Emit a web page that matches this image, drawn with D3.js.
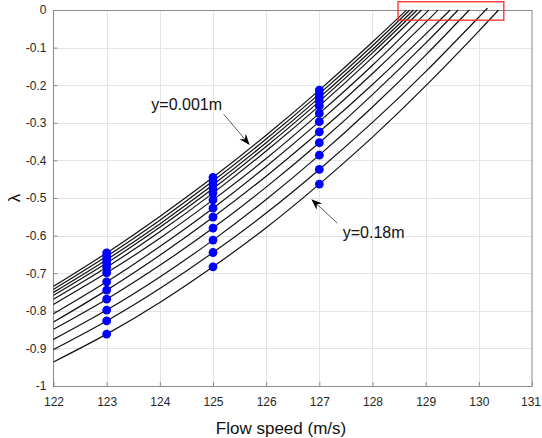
<!DOCTYPE html>
<html>
<head>
<meta charset="utf-8">
<script src="https://cdn.jsdelivr.net/npm/d3@7"></script>
<style>
  html, body { margin: 0; padding: 0; background: #fff; }
  svg { display: block; font-family: "Liberation Sans", Arial, Helvetica, sans-serif; }
</style>
</head>
<body>
<svg id="chart" width="542" height="438"></svg>
<script>
// Flow speed grid (m/s) at which each λ curve is sampled
const speeds = [122, 123, 124, 125, 126, 127, 128, 129, 130];

// λ along each curve, from y = 0.001 m (top) to y = 0.18 m (bottom)
const curve01 = [-0.735, -0.646, -0.549, -0.445, -0.333, -0.213, -0.085];
const curve02 = [-0.743, -0.655, -0.559, -0.455, -0.343, -0.223, -0.095];
const curve03 = [-0.751, -0.664, -0.569, -0.465, -0.353, -0.233, -0.105];
const curve04 = [-0.759, -0.673, -0.578, -0.475, -0.363, -0.243, -0.114];
const curve05 = [-0.769, -0.684, -0.590, -0.487, -0.375, -0.255, -0.126];
const curve06 = [-0.783, -0.699, -0.607, -0.505, -0.395, -0.275, -0.147];
const curve07 = [-0.808, -0.723, -0.629, -0.527, -0.416, -0.297, -0.169, -0.033];
const curve08 = [-0.830, -0.745, -0.652, -0.551, -0.442, -0.324, -0.198, -0.064];
const curve09 = [-0.849, -0.769, -0.679, -0.580, -0.471, -0.353, -0.225, -0.088];
const curve10 = [-0.876, -0.798, -0.710, -0.612, -0.504, -0.386, -0.258, -0.120];
const curve11 = [-0.903, -0.827, -0.741, -0.645, -0.540, -0.424, -0.299, -0.164, -0.019];
const curve12 = [-0.936, -0.862, -0.778, -0.683, -0.579, -0.463, -0.338, -0.202, -0.056];

// Speed at which each curve reaches λ = 0
const zeroSpeed = [128.64, 128.70, 128.77, 128.84, 128.92, 129.06, 129.23, 129.46, 129.61, 129.82, 130.13, 130.37];

// Speeds where measured points are marked
const markedSpeeds = [123, 125, 127];

// Axis ticks
const xTicks = [122, 123, 124, 125, 126, 127, 128, 129, 130, 131];
const yTicks = [0, -0.1, -0.2, -0.3, -0.4, -0.5, -0.6, -0.7, -0.8, -0.9, -1];
const yTickLabels = ["0", "-0.1", "-0.2", "-0.3", "-0.4", "-0.5", "-0.6", "-0.7", "-0.8", "-0.9", "-1"];

// Annotations: label text, label anchor [speed, λ], arrow tail and tip [speed, λ]
const noteText = ["y=0.001m", "y=0.18m"];
const noteAnchor = [[123.84, -0.266], [127.44, -0.606]];
const arrowTail = [[125.20, -0.277], [127.34, -0.567]];
const arrowTip = [[125.69, -0.359], [126.85, -0.503]];

// Highlight rectangle near λ = 0: [speed0, speed1, λtop, λbottom]
const highlightBox = [128.48, 130.47, 0.022, -0.027];

const curves = [curve01, curve02, curve03, curve04, curve05, curve06,
                curve07, curve08, curve09, curve10, curve11, curve12];

const svg = d3.select("#chart");
const plotLeft = 53.5, plotRight = 532, plotTop = 10, plotBottom = 386;

const x = d3.scaleLinear().domain([122, 131]).range([plotLeft, plotRight]);
const y = d3.scaleLinear().domain([-1, 0]).range([plotBottom, plotTop]);

// Grid
const grid = svg.append("g").attr("stroke", "#e4e4e4").attr("stroke-width", 1);
grid.selectAll("line.gx").data(xTicks.slice(1, -1)).join("line")
  .attr("x1", d => Math.round(x(d)) + 0.5).attr("x2", d => Math.round(x(d)) + 0.5)
  .attr("y1", plotTop).attr("y2", plotBottom);
grid.selectAll("line.gy").data(yTicks.slice(1, -1)).join("line")
  .attr("y1", d => Math.round(y(d)) + 0.5).attr("y2", d => Math.round(y(d)) + 0.5)
  .attr("x1", plotLeft).attr("x2", plotRight);

// Axes (ticks pointing inward)
const axisColor = "#8a8a8a";
const xAxis = d3.axisBottom(x).tickValues(xTicks).tickFormat(d3.format("d"))
  .tickSizeInner(-4).tickSizeOuter(0).tickPadding(11);
const yAxis = d3.axisLeft(y).tickValues(yTicks).tickFormat((d, i) => yTickLabels[i])
  .tickSizeInner(-4).tickSizeOuter(0).tickPadding(7);

const gx = svg.append("g").attr("transform", `translate(0,${plotBottom})`).call(xAxis);
const gy = svg.append("g").attr("transform", `translate(${plotLeft},0)`).call(yAxis);
[gx, gy].forEach(g => {
  g.select(".domain").remove();
  g.selectAll(".tick line").attr("stroke", axisColor);
  g.selectAll(".tick text").attr("fill", "#262626").style("font-size", "12px")
    .style("font-family", "\"Liberation Sans\", Arial, Helvetica, sans-serif");
});
// keep the last x label inside the canvas
gx.selectAll(".tick text").filter(d => d === 131).attr("dx", -1.5);

// Frame
svg.append("rect")
  .attr("x", plotLeft).attr("y", plotTop + 0.5)
  .attr("width", plotRight - plotLeft).attr("height", plotBottom - plotTop)
  .attr("fill", "none").attr("stroke", axisColor).attr("stroke-width", 1);

// Curves
const line = d3.line().x(d => x(d[0])).y(d => y(d[1])).curve(d3.curveNatural);
const curvePoints = curves.map((c, k) =>
  c.map((v, i) => [speeds[i], v]).concat([[zeroSpeed[k], 0]]));

svg.append("g").selectAll("path").data(curvePoints).join("path")
  .attr("d", line)
  .attr("fill", "none").attr("stroke", "#111").attr("stroke-width", 1.2);

// Marked points
const dots = [];
curves.forEach(c => markedSpeeds.forEach(s => dots.push([s, c[speeds.indexOf(s)]])));
svg.append("g").selectAll("circle").data(dots).join("circle")
  .attr("cx", d => x(d[0])).attr("cy", d => y(d[1]))
  .attr("r", 4.4).attr("fill", "#0000ff");

// Highlight box
svg.append("rect")
  .attr("x", x(highlightBox[0])).attr("y", y(highlightBox[2]))
  .attr("width", x(highlightBox[1]) - x(highlightBox[0]))
  .attr("height", y(highlightBox[3]) - y(highlightBox[2]))
  .attr("fill", "none").attr("stroke", "#ff2a2a").attr("stroke-width", 1.3);

// Annotation arrows
const arrows = svg.append("g");
arrowTail.forEach((t, i) => {
  const x0 = x(t[0]), y0 = y(t[1]);
  const x1 = x(arrowTip[i][0]), y1 = y(arrowTip[i][1]);
  const ang = Math.atan2(y1 - y0, x1 - x0);
  const len = 11, half = 4.2, notch = 3.5;
  const bx = x1 - len * Math.cos(ang), by = y1 - len * Math.sin(ang);
  const nx = x1 - (len - notch) * Math.cos(ang), ny = y1 - (len - notch) * Math.sin(ang);
  const px = -Math.sin(ang), py = Math.cos(ang);
  arrows.append("line")
    .attr("x1", x0).attr("y1", y0).attr("x2", nx).attr("y2", ny)
    .attr("stroke", "#333").attr("stroke-width", 0.8);
  arrows.append("path")
    .attr("d", `M${x1},${y1}L${bx + half * px},${by + half * py}L${nx},${ny}L${bx - half * px},${by - half * py}Z`)
    .attr("fill", "#000");
});

// Annotation labels
svg.append("g").selectAll("text").data(noteText).join("text")
  .attr("x", (d, i) => x(noteAnchor[i][0])).attr("y", (d, i) => y(noteAnchor[i][1]))
  .attr("fill", "#111").style("font-size", "16px")
  .text(d => d);

// Axis titles
svg.append("text")
  .attr("x", 281).attr("y", 434).attr("text-anchor", "middle")
  .attr("fill", "#111").style("font-size", "17px")
  .text("Flow speed (m/s)");

svg.append("text")
  .attr("transform", `translate(20,${y(-0.5)}) rotate(-90)`)
  .attr("text-anchor", "middle")
  .attr("fill", "#111").style("font-size", "17px")
  .text("λ");
</script>
</body>
</html>
